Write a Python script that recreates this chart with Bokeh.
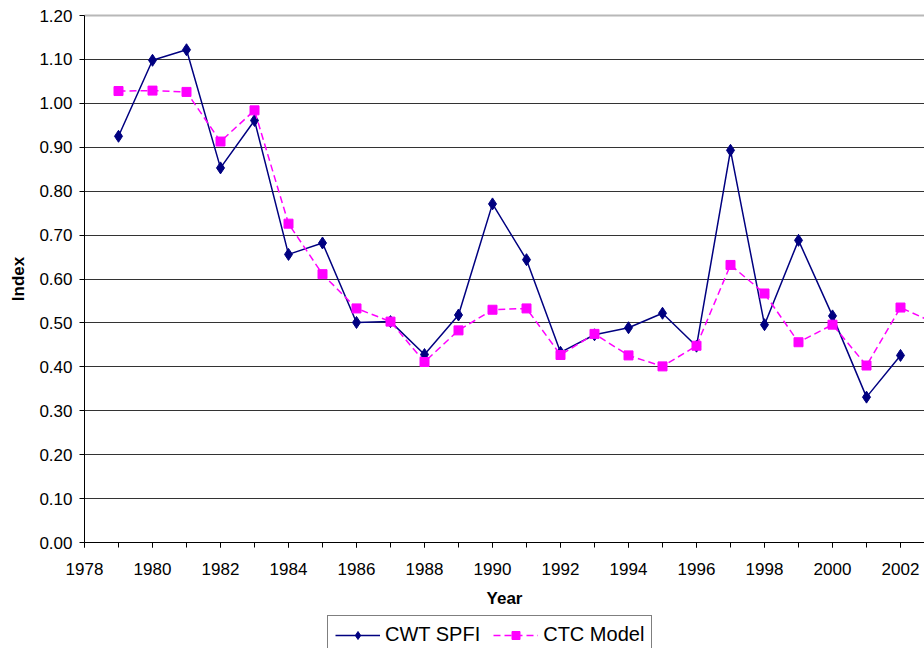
from bokeh.plotting import figure
from bokeh.models import (Range1d, FixedTicker, SingleIntervalTicker, PrintfTickFormatter,
                          Grid, Legend, LegendItem)
from bokeh.embed import file_html
from bokeh.resources import INLINE

# ---- data ----
years_cwt = [1979, 1980, 1981, 1982, 1983, 1984, 1985, 1986, 1987, 1988, 1989, 1990,
             1991, 1992, 1993, 1994, 1995, 1996, 1997, 1998, 1999, 2000, 2001, 2002]
cwt_spfi = [0.925, 1.098, 1.122, 0.853, 0.961, 0.656, 0.682, 0.501, 0.503, 0.428, 0.518, 0.771,
            0.644, 0.433, 0.473, 0.489, 0.522, 0.447, 0.893, 0.496, 0.688, 0.516, 0.331, 0.426]

years_ctc = [1979, 1980, 1981, 1982, 1983, 1984, 1985, 1986, 1987, 1988, 1989, 1990,
             1991, 1992, 1993, 1994, 1995, 1996, 1997, 1998, 1999, 2000, 2001, 2002, 2003]
ctc_model = [1.028, 1.029, 1.026, 0.913, 0.984, 0.726, 0.611, 0.533, 0.503, 0.411, 0.483, 0.530,
             0.533, 0.427, 0.475, 0.426, 0.401, 0.448, 0.632, 0.567, 0.456, 0.496, 0.403, 0.535, 0.500]

y_ticks = [0.0, 0.1, 0.2, 0.3, 0.4, 0.5, 0.6, 0.7, 0.8, 0.9, 1.0, 1.1, 1.2]

FONT = "Liberation Sans"

# The frame covers the whole canvas; the value axis (0..1.2) spans 15..542 px and
# the years start at 84 px, leaving room for the axes and the legend inside it.
X0, X1 = 1978, 1978 + 840 / 34
X_MIN = 1978 - 84 / 34
Y_MIN = -1.2 * 106 / 527
Y_MAX = 1.2 + 1.2 * 15 / 527

p = figure(width=924, height=648, output_backend="svg", toolbar_location=None,
           x_range=Range1d(X_MIN, X1), y_range=Range1d(Y_MIN, Y_MAX),
           min_border_left=0, min_border_right=0, min_border_top=0, min_border_bottom=0)
p.outline_line_color = None
p.background_fill_color = "white"
p.border_fill_color = "white"

# axes
p.xaxis.ticker = SingleIntervalTicker(interval=2, num_minor_ticks=2)
p.xaxis.fixed_location = 0
p.xaxis.bounds = (X0, X1)
p.yaxis.ticker = FixedTicker(ticks=y_ticks)
p.yaxis.formatter = PrintfTickFormatter(format="%.2f")
p.yaxis.fixed_location = X0
p.yaxis.bounds = (0, 1.2)
for ax in (p.xaxis[0], p.yaxis[0]):
    ax.axis_line_color = "black"
    ax.axis_line_width = 1
    ax.major_tick_line_color = "black"
    ax.major_tick_out = 5
    ax.major_tick_in = 0
    ax.minor_tick_line_color = "black"
    ax.minor_tick_out = 5
    ax.minor_tick_in = 0
    ax.major_label_text_font = FONT
    ax.major_label_text_font_size = "17px"
    ax.major_label_text_color = "black"
    ax.axis_label_text_font = FONT
    ax.axis_label_text_font_size = "17px"
    ax.axis_label_text_font_style = "bold"
    ax.axis_label_text_color = "black"
p.yaxis.minor_tick_line_color = None
p.xaxis.axis_label = "Year"
p.yaxis.axis_label = "Index"
p.xaxis.major_label_standoff = 15
p.yaxis.major_label_standoff = 7
p.xaxis.axis_label_standoff = 11
p.yaxis.axis_label_standoff = 8

# grid
p.xgrid.grid_line_color = None
p.ygrid.ticker = FixedTicker(ticks=y_ticks[1:-1])
p.ygrid.grid_line_color = "#333333"
p.ygrid.grid_line_width = 1
p.ygrid.cross_bounds = (X0, X1)
p.add_layout(Grid(dimension=1, ticker=FixedTicker(ticks=[1.2]), cross_bounds=(X0, X1),
                  grid_line_color="#b8b8b8", grid_line_width=2))

# series
l1 = p.line(years_cwt, cwt_spfi, line_color="#000080", line_width=1.5)
s1 = p.scatter(years_cwt, cwt_spfi, marker="diamond", size=12, fill_color="#000080",
               line_color="#000080")
l2 = p.line(years_ctc, ctc_model, line_color="#FF00FF", line_width=1.5, line_dash="7 4")
s2 = p.scatter(years_ctc, ctc_model, marker="square", size=9, fill_color="#FF00FF",
               line_color="#FF00FF")

legend = Legend(items=[LegendItem(label="CWT SPFI", renderers=[l1, s1]),
                       LegendItem(label="CTC Model", renderers=[l2, s2])],
                orientation="horizontal", location=(327, -6),
                label_text_font=FONT, label_text_font_size="20px",
                label_text_color="black",
                glyph_width=45, glyph_height=20, label_standoff=5, spacing=13,
                padding=7, margin=0,
                border_line_color="black", border_line_width=1,
                background_fill_color="white", background_fill_alpha=1.0)
p.add_layout(legend, "center")

open("out.html", "w").write(file_html(p, INLINE))
